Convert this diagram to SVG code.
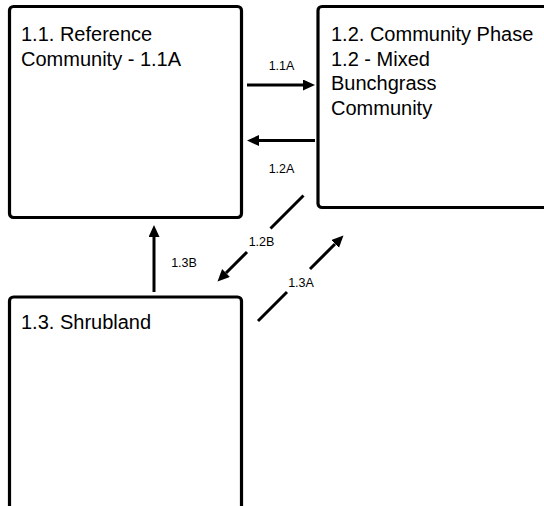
<svg xmlns="http://www.w3.org/2000/svg" width="544" height="506" viewBox="0 0 544 506">
<style>
.box{fill:#fff;stroke:#000;stroke-width:3.2}
.t{font-family:"Liberation Sans",Arial,sans-serif;font-size:20px;fill:#000}
.lbl{font-family:"Liberation Sans",Arial,sans-serif;font-size:12.5px;fill:#000;text-anchor:middle}
.c{fill:none;stroke:#000;stroke-width:3}
</style>
<defs>
<marker id="ah" markerUnits="userSpaceOnUse" markerWidth="13" markerHeight="12" refX="0" refY="5.5" orient="auto">
<path d="M0,0 L12,5.5 L0,11 Z" fill="#000"/>
</marker>
</defs>
<rect width="544" height="506" fill="#fff"/>
<g id="node-1-1">
<rect class="box" x="9.5" y="6.5" width="232" height="211" rx="4"/>
<text class="t" x="21" y="41">1.1. Reference</text>
<text class="t" x="21" y="65.5">Community - 1.1A</text>
</g>
<g id="node-1-2">
<rect class="box" x="318" y="6.5" width="260" height="201" rx="4"/>
<text class="t" x="331" y="41">1.2. Community Phase</text>
<text class="t" x="331" y="65.5">1.2 - Mixed</text>
<text class="t" x="331" y="90">Bunchgrass</text>
<text class="t" x="331" y="114.5">Community</text>
</g>
<g id="node-1-3">
<rect class="box" x="9.5" y="297" width="232" height="240" rx="4"/>
<text class="t" x="21" y="329">1.3. Shrubland</text>
</g>
<g id="connectors">
<path class="c" d="M247,85 H303" marker-end="url(#ah)"/>
<text class="lbl" x="281.5" y="70">1.1A</text>
<path class="c" d="M315,140.5 H259" marker-end="url(#ah)"/>
<text class="lbl" x="281.5" y="173">1.2A</text>
<path class="c" d="M303.5,195.5 L270.5,228.5 M247,252 L226,273" marker-end="url(#ah)"/>
<text class="lbl" x="261.5" y="246">1.2B</text>
<path class="c" d="M258,321 L287,292 M310,269 L335,244" marker-end="url(#ah)"/>
<text class="lbl" x="301" y="287">1.3A</text>
<path class="c" d="M154,292 V237" marker-end="url(#ah)"/>
<text class="lbl" x="184" y="267">1.3B</text>
</g>
</svg>
